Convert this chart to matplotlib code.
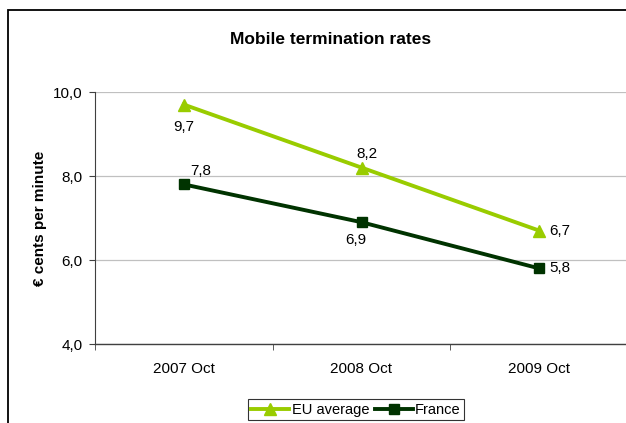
import matplotlib.pyplot as plt
from matplotlib.patches import Rectangle
from matplotlib.ticker import FixedLocator, FuncFormatter

plt.rcParams['font.family'] = ['Liberation Sans', 'DejaVu Sans']

periods = ["2007 Oct", "2008 Oct", "2009 Oct"]
eu_average = [9.7, 8.2, 6.7]
france = [7.8, 6.9, 5.8]

eu_color = "#99CC00"
fr_color = "#003300"

fig = plt.figure(figsize=(6.26, 4.23), dpi=100)
W, H = 626, 423

# outer chart frame, running off the right and bottom edges
fig.patches.append(Rectangle((8 / W, -0.1), 1.0, 1.1 - 10 / H,
                             transform=fig.transFigure, fill=False,
                             edgecolor="black", linewidth=1.3, clip_on=False))

ax = fig.add_axes([95 / W, 79 / H, 533 / W, 252 / H])
x = range(len(periods))
ax.plot(x, eu_average, color=eu_color, lw=2.8, marker="^", ms=9,
        label="EU average", clip_on=False, zorder=3)
ax.plot(x, france, color=fr_color, lw=2.8, marker="s", ms=7,
        label="France", clip_on=False, zorder=3)

ax.set_xlim(-0.5, 2.5)
ax.set_ylim(4, 10)
ax.set_yticks([4, 6, 8, 10])
ax.yaxis.set_major_formatter(FuncFormatter(lambda v, p: f"{v:.1f}".replace(".", ",")))
ax.set_xticks(list(x))
ax.set_xticklabels(periods, fontsize=11)
ax.xaxis.set_minor_locator(FixedLocator([-0.5, 0.5, 1.5, 2.5]))
ax.tick_params(axis="x", which="major", length=0, pad=13)
ax.tick_params(axis="x", which="minor", length=4, color="#404040")
ax.tick_params(axis="y", length=4, labelsize=11, color="#404040", pad=5)
ax.grid(axis="y", color="#C0C0C0", lw=0.9)
ax.set_axisbelow(True)
for s in ("top", "right"):
    ax.spines[s].set_visible(False)
ax.spines["left"].set_color("#404040")
ax.spines["bottom"].set_color("#404040")
ax.spines["bottom"].set_linewidth(1.0)

ax.set_ylabel("€ cents per minute", fontsize=11, fontweight="bold", labelpad=4)

# value labels
def fmt(v):
    return f"{v:.1f}".replace(".", ",")

eu_offsets = [(0, -16), (4, 10), (15, 0)]
fr_offsets = [(12, 10), (-4, -13), (15, 0)]
for i, (v, off) in enumerate(zip(eu_average, eu_offsets)):
    ax.annotate(fmt(v), (i, v), xytext=off, textcoords="offset points",
                ha="center", va="center", fontsize=11)
for i, (v, off) in enumerate(zip(france, fr_offsets)):
    ax.annotate(fmt(v), (i, v), xytext=off, textcoords="offset points",
                ha="center", va="center", fontsize=11)

fig.text(331 / W, 1 - 40 / H, "Mobile termination rates", ha="center",
         va="center", fontsize=12.5, fontweight="bold")

leg = fig.legend(loc="upper center", bbox_to_anchor=(356 / W, 1 - 399 / H),
                 ncol=2, frameon=True, fancybox=False, fontsize=10.5,
                 handlelength=2.6, handletextpad=0.15, columnspacing=0.4,
                 borderpad=0.25, borderaxespad=0)
leg.get_frame().set_edgecolor("black")
leg.get_frame().set_linewidth(0.8)

fig.savefig("out.png", dpi=100)
